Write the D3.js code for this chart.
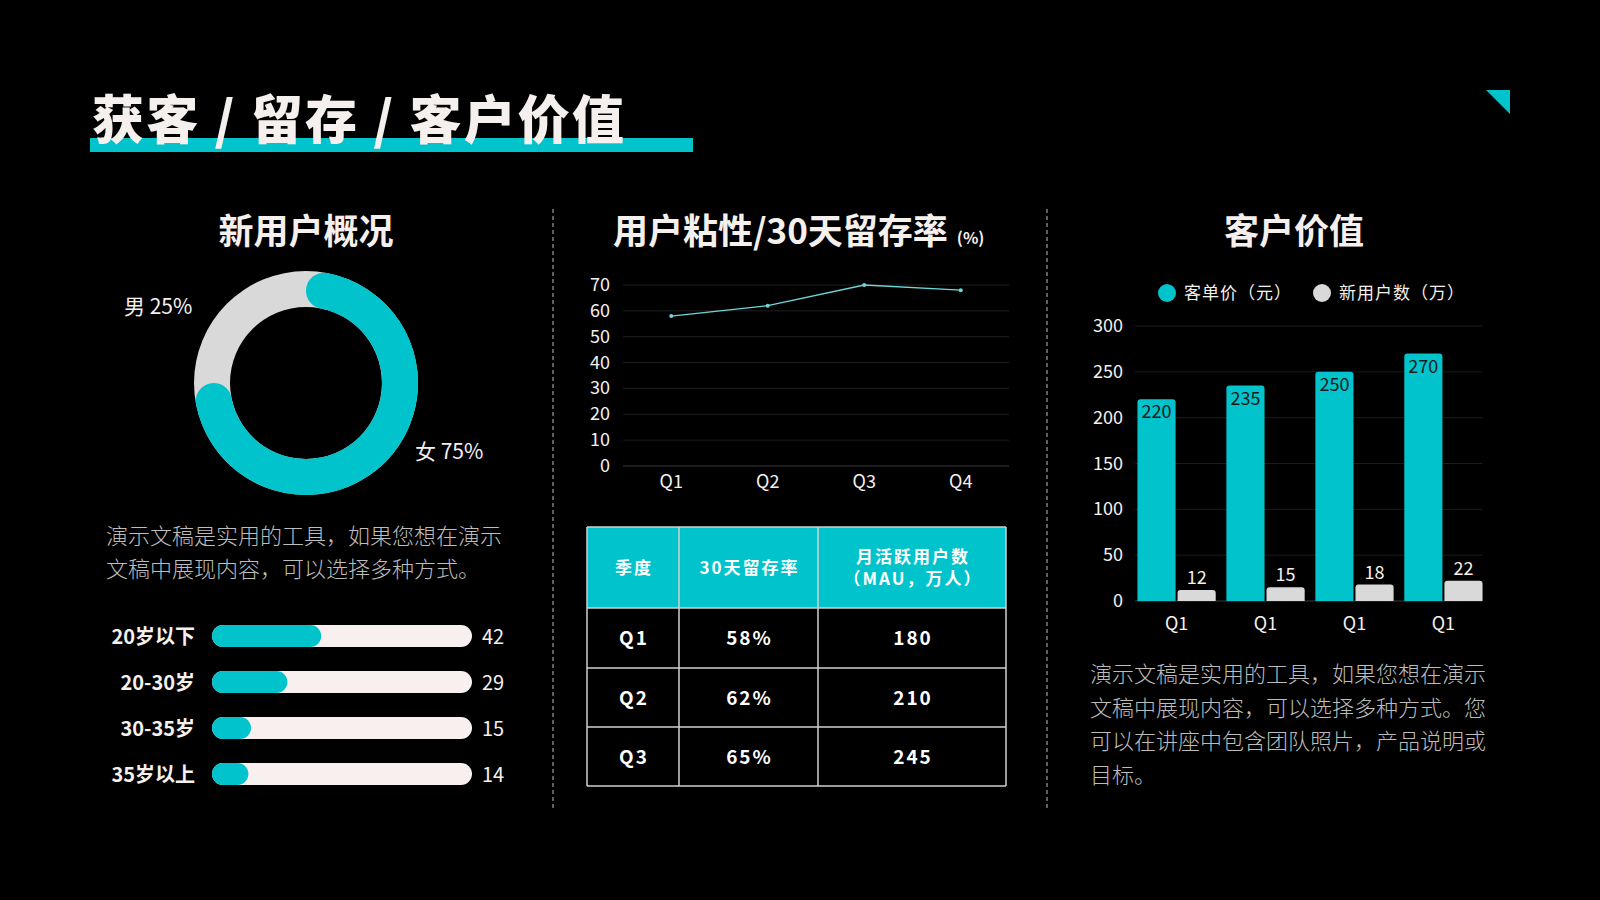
<!DOCTYPE html>
<html>
<head>
<meta charset="utf-8">
<script src="https://cdn.jsdelivr.net/npm/d3@7"></script>
<style>
  html, body { margin: 0; padding: 0; background: #000; }
  svg { display: block; }
  text { font-family: "Noto Sans CJK SC", "Noto Sans", sans-serif; }
</style>
</head>
<body>
<svg id="mysvg" width="1600" height="900"></svg>
<script>

// ---- data ----
var genderLabels = ["女", "男"];
var genderValues = [75, 25];

var ageGroups = ["20岁以下", "20-30岁", "30-35岁", "35岁以上"];
var ageValues = [42, 29, 15, 14];

var quarters = ["Q1", "Q2", "Q3", "Q4"];
var retention = [58, 62, 70, 68];
var retentionTicks = [0, 10, 20, 30, 40, 50, 60, 70];

var tableHeaders = [["季度"], ["30天留存率"], ["月活跃用户数", "（MAU，万人）"]];
var tableRows = [
	["Q1", "58%", "180"],
	["Q2", "62%", "210"],
	["Q3", "65%", "245"]
];

var valueQuarters = ["Q1", "Q1", "Q1", "Q1"];
var seriesNames = ["客单价（元）", "新用户数（万）"];
var pricePerCustomer = [220, 235, 250, 270];
var newUsers = [12, 15, 18, 22];
var valueTicks = [0, 50, 100, 150, 200, 250, 300];

var paraLeft = ["演示文稿是实用的工具，如果您想在演示", "文稿中展现内容，可以选择多种方式。"];
var paraRight = ["演示文稿是实用的工具，如果您想在演示", "文稿中展现内容，可以选择多种方式。您",
	"可以在讲座中包含团队照片，产品说明或", "目标。"];

// ---- colours ----
var CYAN = "#00c3cc";
var GREY = "#d9d9d9";
var WHITE = "#f5f0ee";

var svg = d3.select("#mysvg");

svg.append("rect").attr("width", 1600).attr("height", 900).attr("fill", "#000");

// header
svg.append("rect")
	.attr("x", 90).attr("y", 138)
	.attr("width", 603).attr("height", 14)
	.attr("fill", CYAN);

svg.append("text")
	.attr("x", 92).attr("y", 139)
	.attr("font-size", 52)
	.attr("font-weight", 900)
	.attr("fill", WHITE)
	.attr("textLength", 532)
	.attr("lengthAdjust", "spacing")
	.text("获客 / 留存 / 客户价值");

svg.append("path")
	.attr("d", "M1486,90 L1510,90 L1510,114 Z")
	.attr("fill", CYAN);

// separators
[553, 1047].forEach(function (x) {
	svg.append("line")
		.attr("x1", x).attr("x2", x)
		.attr("y1", 209).attr("y2", 809)
		.attr("stroke", "#bdbdbd")
		.attr("stroke-width", 1)
		.attr("stroke-dasharray", "4,3");
});

// panel titles
svg.append("text").attr("x", 306).attr("y", 244)
	.attr("text-anchor", "middle").attr("font-size", 35).attr("font-weight", 700)
	.attr("fill", WHITE).text("新用户概况");

var t2 = svg.append("text").attr("x", 613).attr("y", 244)
	.attr("font-size", 35).attr("font-weight", 700).attr("fill", WHITE);
t2.append("tspan").text("用户粘性/30天留存率");
t2.append("tspan").attr("font-size", 16).attr("dx", 9).text("(%)");

svg.append("text").attr("x", 1294).attr("y", 244)
	.attr("text-anchor", "middle").attr("font-size", 35).attr("font-weight", 700)
	.attr("fill", WHITE).text("客户价值");

// ---- donut ----
var donut = svg.append("g").attr("transform", "translate(306,383)");
var pie = d3.pie().sort(null).value(function (d) { return d; });
var slices = pie(genderValues);

donut.append("path")
	.attr("d", d3.arc().innerRadius(76).outerRadius(112)({ startAngle: 0, endAngle: 2 * Math.PI }))
	.attr("fill", GREY);

donut.append("path")
	.attr("d", d3.arc().innerRadius(76).outerRadius(112).cornerRadius(18)(slices[0]))
	.attr("fill", CYAN);

svg.append("text").attr("x", 415).attr("y", 459)
	.attr("font-size", 21).attr("fill", WHITE)
	.text(genderLabels[0] + " " + genderValues[0] + "%");
svg.append("text").attr("x", 124).attr("y", 314)
	.attr("font-size", 21).attr("fill", WHITE)
	.text(genderLabels[1] + " " + genderValues[1] + "%");

// left paragraph
paraLeft.forEach(function (s, i) {
	svg.append("text").attr("x", 106).attr("y", 544 + i * 33)
		.attr("font-size", 22).attr("font-weight", 300)
		.attr("fill", "#bdbdbd").text(s);
});

// ---- age bars ----
var ageX = d3.scaleLinear().domain([0, 100]).range([212, 472]);
var ageY = d3.scaleBand().domain(ageGroups).range([613, 797]).paddingInner(0.52).paddingOuter(0.26);

var ageG = svg.append("g");
ageGroups.forEach(function (a, i) {
	var y = ageY(a);
	var h = ageY.bandwidth();
	ageG.append("rect")
		.attr("x", ageX(0)).attr("y", y)
		.attr("width", ageX(100) - ageX(0)).attr("height", h)
		.attr("rx", h / 2)
		.attr("fill", "#f7f0ee");
	ageG.append("rect")
		.attr("x", ageX(0)).attr("y", y)
		.attr("width", ageX(ageValues[i]) - ageX(0)).attr("height", h)
		.attr("rx", h / 2)
		.attr("fill", CYAN);
	ageG.append("text")
		.attr("x", 195).attr("y", y + h / 2 + 8)
		.attr("text-anchor", "end")
		.attr("font-size", 20).attr("font-weight", 700)
		.attr("fill", WHITE).text(a);
	ageG.append("text")
		.attr("x", 482).attr("y", y + h / 2 + 8)
		.attr("font-size", 20)
		.attr("fill", WHITE).text(ageValues[i]);
});

// ---- line chart ----
var lx = d3.scaleBand().domain(quarters).range([623, 1009]);
var ly = d3.scaleLinear().domain([0, 70]).range([466, 285]);

var lineG = svg.append("g");
retentionTicks.forEach(function (t) {
	lineG.append("line")
		.attr("x1", 623).attr("x2", 1009)
		.attr("y1", ly(t)).attr("y2", ly(t))
		.attr("stroke", t === 0 ? "#3a3a3a" : "#1f1f1f")
		.attr("stroke-width", 1);
	lineG.append("text")
		.attr("x", 610).attr("y", ly(t) + 6)
		.attr("text-anchor", "end")
		.attr("font-size", 18).attr("fill", WHITE)
		.text(t);
});
quarters.forEach(function (q) {
	lineG.append("text")
		.attr("x", lx(q) + lx.bandwidth() / 2).attr("y", 488)
		.attr("text-anchor", "middle")
		.attr("font-size", 18).attr("fill", WHITE)
		.text(q);
});
var line = d3.line()
	.x(function (d, i) { return lx(quarters[i]) + lx.bandwidth() / 2; })
	.y(function (d) { return ly(d); });
lineG.append("path")
	.attr("d", line(retention))
	.attr("fill", "none")
	.attr("stroke", "#6fd6d8")
	.attr("stroke-width", 1.3);
lineG.selectAll("circle").data(retention).enter().append("circle")
	.attr("cx", function (d, i) { return lx(quarters[i]) + lx.bandwidth() / 2; })
	.attr("cy", function (d) { return ly(d); })
	.attr("r", 2)
	.attr("fill", "#6fd6d8");

// ---- table ----
var colEdges = d3.scaleOrdinal().domain([0, 1, 2, 3]).range([587, 679, 818, 1006]);
var rowEdges = d3.scaleOrdinal().domain([0, 1, 2, 3, 4]).range([527, 608, 668, 727, 786]);

var tab = svg.append("g");
tab.append("rect")
	.attr("x", colEdges(0)).attr("y", rowEdges(0))
	.attr("width", colEdges(3) - colEdges(0)).attr("height", rowEdges(1) - rowEdges(0))
	.attr("fill", CYAN);

tableHeaders.forEach(function (lines, c) {
	var cx = (colEdges(c) + colEdges(c + 1)) / 2;
	var cy = (rowEdges(0) + rowEdges(1)) / 2;
	lines.forEach(function (s, k) {
		tab.append("text")
			.attr("x", cx + 1)
			.attr("y", cy + 6 + (k - (lines.length - 1) / 2) * 22)
			.attr("text-anchor", "middle")
			.attr("font-size", 17).attr("font-weight", 700)
			.attr("letter-spacing", 2)
			.attr("fill", "#ffffff").text(s);
	});
});
tableRows.forEach(function (row, r) {
	row.forEach(function (s, c) {
		tab.append("text")
			.attr("x", (colEdges(c) + colEdges(c + 1)) / 2 + 1)
			.attr("y", (rowEdges(r + 1) + rowEdges(r + 2)) / 2 + 7)
			.attr("text-anchor", "middle")
			.attr("font-size", 19).attr("font-weight", 700)
			.attr("letter-spacing", 2)
			.attr("fill", "#ffffff").text(s);
	});
});
[0, 1, 2, 3, 4].forEach(function (r) {
	tab.append("line")
		.attr("x1", colEdges(0)).attr("x2", colEdges(3))
		.attr("y1", rowEdges(r)).attr("y2", rowEdges(r))
		.attr("stroke", "#d0d0d0").attr("stroke-width", 1.5);
});
[0, 1, 2, 3].forEach(function (c) {
	tab.append("line")
		.attr("x1", colEdges(c)).attr("x2", colEdges(c))
		.attr("y1", rowEdges(0)).attr("y2", rowEdges(4))
		.attr("stroke", "#d0d0d0").attr("stroke-width", 1.5);
});

// ---- grouped bars ----
var bx0 = d3.scaleBand().domain(d3.range(valueQuarters.length)).range([1133, 1487]).paddingInner(0.12).paddingOuter(0.05);
var bx1 = d3.scaleBand().domain(seriesNames).range([0, bx0.bandwidth()]).paddingInner(0.05);
var by = d3.scaleLinear().domain([0, 300]).range([601, 326]);
var barColors = d3.scaleOrdinal().domain(seriesNames).range([CYAN, GREY]);
var seriesValues = [pricePerCustomer, newUsers];

function topRounded(x, y, w, h, r) {
	return "M" + x + "," + (y + h) +
		"V" + (y + r) +
		"Q" + x + "," + y + " " + (x + r) + "," + y +
		"H" + (x + w - r) +
		"Q" + (x + w) + "," + y + " " + (x + w) + "," + (y + r) +
		"V" + (y + h) + "Z";
}

var barG = svg.append("g");
valueTicks.forEach(function (t) {
	barG.append("line")
		.attr("x1", 1135).attr("x2", 1482)
		.attr("y1", by(t)).attr("y2", by(t))
		.attr("stroke", t === 0 ? "#3a3a3a" : "#1c1c1c")
		.attr("stroke-width", 1);
	barG.append("text")
		.attr("x", 1123).attr("y", by(t) + 6)
		.attr("text-anchor", "end")
		.attr("font-size", 18).attr("fill", WHITE)
		.text(t);
});

valueQuarters.forEach(function (q, i) {
	seriesNames.forEach(function (s, k) {
		var v = seriesValues[k][i];
		var x = bx0(i) + bx1(s);
		var w = bx1.bandwidth();
		barG.append("path")
			.attr("d", topRounded(x, by(v), w, by(0) - by(v), 3))
			.attr("fill", barColors(s));
		barG.append("text")
			.attr("x", x + w / 2)
			.attr("y", k === 0 ? by(v) + 19 : by(v) - 6)
			.attr("text-anchor", "middle")
			.attr("font-size", 18)
			.attr("fill", k === 0 ? "#1a1a1a" : WHITE)
			.text(v);
	});
	barG.append("text")
		.attr("x", bx0(i) + bx0.bandwidth() / 2).attr("y", 630)
		.attr("text-anchor", "middle")
		.attr("font-size", 18).attr("fill", WHITE)
		.text(q);
});

// legend
var legendX = [1167, 1322];
seriesNames.forEach(function (s, k) {
	svg.append("circle")
		.attr("cx", legendX[k]).attr("cy", 293).attr("r", 9)
		.attr("fill", barColors(s));
	svg.append("text")
		.attr("x", legendX[k] + 17).attr("y", 299)
		.attr("font-size", 17).attr("fill", WHITE)
		.attr("letter-spacing", 1)
		.text(s);
});

// right paragraph
paraRight.forEach(function (s, i) {
	svg.append("text").attr("x", 1090).attr("y", 682 + i * 33.7)
		.attr("font-size", 22).attr("font-weight", 300)
		.attr("fill", "#bdbdbd").text(s);
});

</script>
</body>
</html>
